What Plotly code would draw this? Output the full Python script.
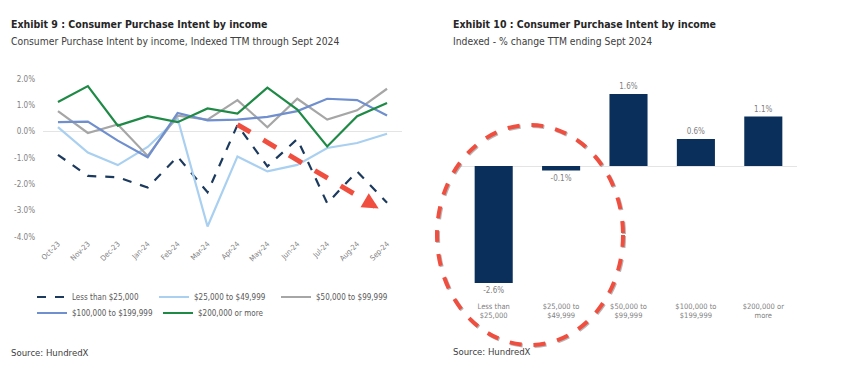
import plotly.graph_objects as go

# ---------------- data ----------------
months = ["Oct-23", "Nov-23", "Dec-23", "Jan-24", "Feb-24", "Mar-24",
          "Apr-24", "May-24", "Jun-24", "Jul-24", "Aug-24", "Sep-24"]
less_25k = [-0.88, -1.68, -1.73, -2.12, -0.95, -2.30, 0.25, -1.32, -0.28, -2.72, -1.51, -2.70]
k25_49 = [0.17, -0.79, -1.27, -0.58, 0.50, -3.60, -0.94, -1.51, -1.26, -0.62, -0.43, -0.08]
k50_99 = [0.78, -0.05, 0.27, -0.92, 0.61, 0.46, 1.20, 0.17, 1.25, 0.46, 0.81, 1.63]
k100_199 = [0.36, 0.38, -0.34, -0.97, 0.71, 0.43, 0.46, 0.56, 0.78, 1.25, 1.20, 0.61]
k200_plus = [1.13, 1.73, 0.23, 0.59, 0.36, 0.88, 0.69, 1.67, 0.84, -0.56, 0.59, 1.09]

series_names = ["Less than $25,000", "$25,000 to $49,999", "$50,000 to $99,999",
                "$100,000 to $199,999", "$200,000 or more"]

y_tickvals = [2, 1, 0, -1, -2, -3, -4]
y_ticktext = ["2.0%", "1.0%", "0.0%", "-1.0%", "-2.0%", "-3.0%", "-4.0%"]

bar_cats = ["Less than<br>$25,000", "$25,000 to<br>$49,999", "$50,000 to<br>$99,999",
            "$100,000 to<br>$199,999", "$200,000 or<br>more"]
bar_vals = [-2.6, -0.1, 1.6, 0.6, 1.1]
bar_labels = ["-2.6%", "-0.1%", "1.6%", "0.6%", "1.1%"]

# ---------------- style ----------------
FONT = "DejaVu Sans Condensed, Liberation Sans Narrow, sans-serif"
GRAY = "#7f7f7f"
RED = "#f04e3e"
W, H = 848, 388


def px(x):
    return x / W


def py(y):
    return 1 - y / H


fig = go.Figure()

styles = [
    dict(color="#1b3a5e", width=2.2, dash="dash"),
    dict(color="#a9d0f0", width=2.2),
    dict(color="#a6a6a6", width=2.2),
    dict(color="#6f8fcf", width=2.2),
    dict(color="#1e8a45", width=2.2),
]
data = [less_25k, k25_49, k50_99, k100_199, k200_plus]
for i, (name, vals, st) in enumerate(zip(series_names, data, styles)):
    fig.add_trace(go.Scatter(
        x=months, y=vals, name=name, mode="lines", line=st,
        xaxis="x", yaxis="y",
        legend="legend" if i < 3 else "legend2",
    ))

fig.add_trace(go.Bar(
    x=bar_cats, y=bar_vals, text=bar_labels, textposition="outside",
    textfont=dict(size=8, color=GRAY, family=FONT),
    marker=dict(color="#0b2f5b", line=dict(width=0)),
    xaxis="x2", yaxis="y2", showlegend=False, cliponaxis=False,
))

fig.update_layout(
    width=W, height=H,
    margin=dict(l=0, r=0, t=0, b=0),
    paper_bgcolor="white", plot_bgcolor="white",
    font=dict(family=FONT, color=GRAY, size=8),
    bargap=0.435,
    xaxis=dict(domain=[px(43), px(402)], type="category", tickangle=-45,
               tickfont=dict(size=7.5, color=GRAY), showgrid=False, showline=False,
               zeroline=False, ticks="", automargin=False, range=[-0.5, 11.5],
               fixedrange=True),
    yaxis=dict(domain=[py(237), py(79)], range=[-4, 2], tickvals=y_tickvals,
               ticktext=y_ticktext, tickfont=dict(size=8, color=GRAY),
               ticklabelstandoff=7,
               showgrid=False, zeroline=True, zerolinecolor="#e4e4e4",
               zerolinewidth=1, showline=False, ticks="", automargin=False),
    xaxis2=dict(domain=[px(460), px(797)], anchor="y2", type="category",
                tickfont=dict(size=7.5, color=GRAY), showgrid=False, showline=False,
                zeroline=False, ticks="", automargin=False),
    yaxis2=dict(domain=[py(300), py(60)], anchor="x2", range=[-2.978, 2.356],
                showticklabels=False, showgrid=False, zeroline=True,
                zerolinecolor="#e4e4e4", zerolinewidth=1, ticks="",
                automargin=False),
    legend=dict(orientation="h", x=px(32), y=py(297), xanchor="left",
                yanchor="middle", entrywidth=77, entrywidthmode="pixels",
                font=dict(size=8, color="#595959"), bgcolor="rgba(0,0,0,0)",
                itemwidth=30, tracegroupgap=0),
    legend2=dict(orientation="h", x=px(32), y=py(313), xanchor="left",
                 yanchor="middle", entrywidth=81, entrywidthmode="pixels",
                 font=dict(size=8, color="#595959"), bgcolor="rgba(0,0,0,0)",
                 itemwidth=30, tracegroupgap=0),
    showlegend=True,
)

# titles and sources
texts = [
    (9, 24, "<b>Exhibit 9 : Consumer Purchase Intent by income</b>", 10.5, "#262626"),
    (9, 41, "Consumer Purchase Intent by income, Indexed TTM through Sept 2024", 10.3, "#404040"),
    (451, 24, "<b>Exhibit 10 : Consumer Purchase Intent by income</b>", 10.5, "#262626"),
    (451, 41, "Indexed - % change TTM ending Sept 2024", 10.3, "#404040"),
    (9, 352, "Source: HundredX", 9.5, "#404040"),
    (451, 351, "Source: HundredX", 9.5, "#404040"),
]
for x, y, t, s, c in texts:
    fig.add_annotation(x=px(x), y=py(y), xref="paper", yref="paper", text=t,
                       showarrow=False, xanchor="left", yanchor="middle",
                       font=dict(size=s, color=c, family=FONT))

# red dashed circle (with faint shadow)
fig.add_shape(type="circle", xref="paper", yref="paper",
              x0=px(438), x1=px(624), y0=py(346), y1=py(126),
              line=dict(color="rgba(90,90,90,0.45)", width=4, dash="dash"))
fig.add_shape(type="circle", xref="paper", yref="paper",
              x0=px(437), x1=px(623), y0=py(345), y1=py(125),
              line=dict(color=RED, width=4, dash="dash"))

# red dashed arrow on left chart
fig.add_shape(type="line", xref="x", yref="y", x0=6.0, y0=0.27, x1=10.4, y1=-2.7,
              line=dict(color=RED, width=5, dash="dash"))
fig.add_annotation(x=10.72, y=-2.92, ax=10.3, ay=-2.64, xref="x", yref="y",
                   axref="x", ayref="y", text="", showarrow=True, arrowhead=2,
                   arrowsize=0.65, arrowwidth=5, arrowcolor=RED)

fig.write_html("out.html", config={"displayModeBar": False},
               post_script="document.body.style.margin='0';")
